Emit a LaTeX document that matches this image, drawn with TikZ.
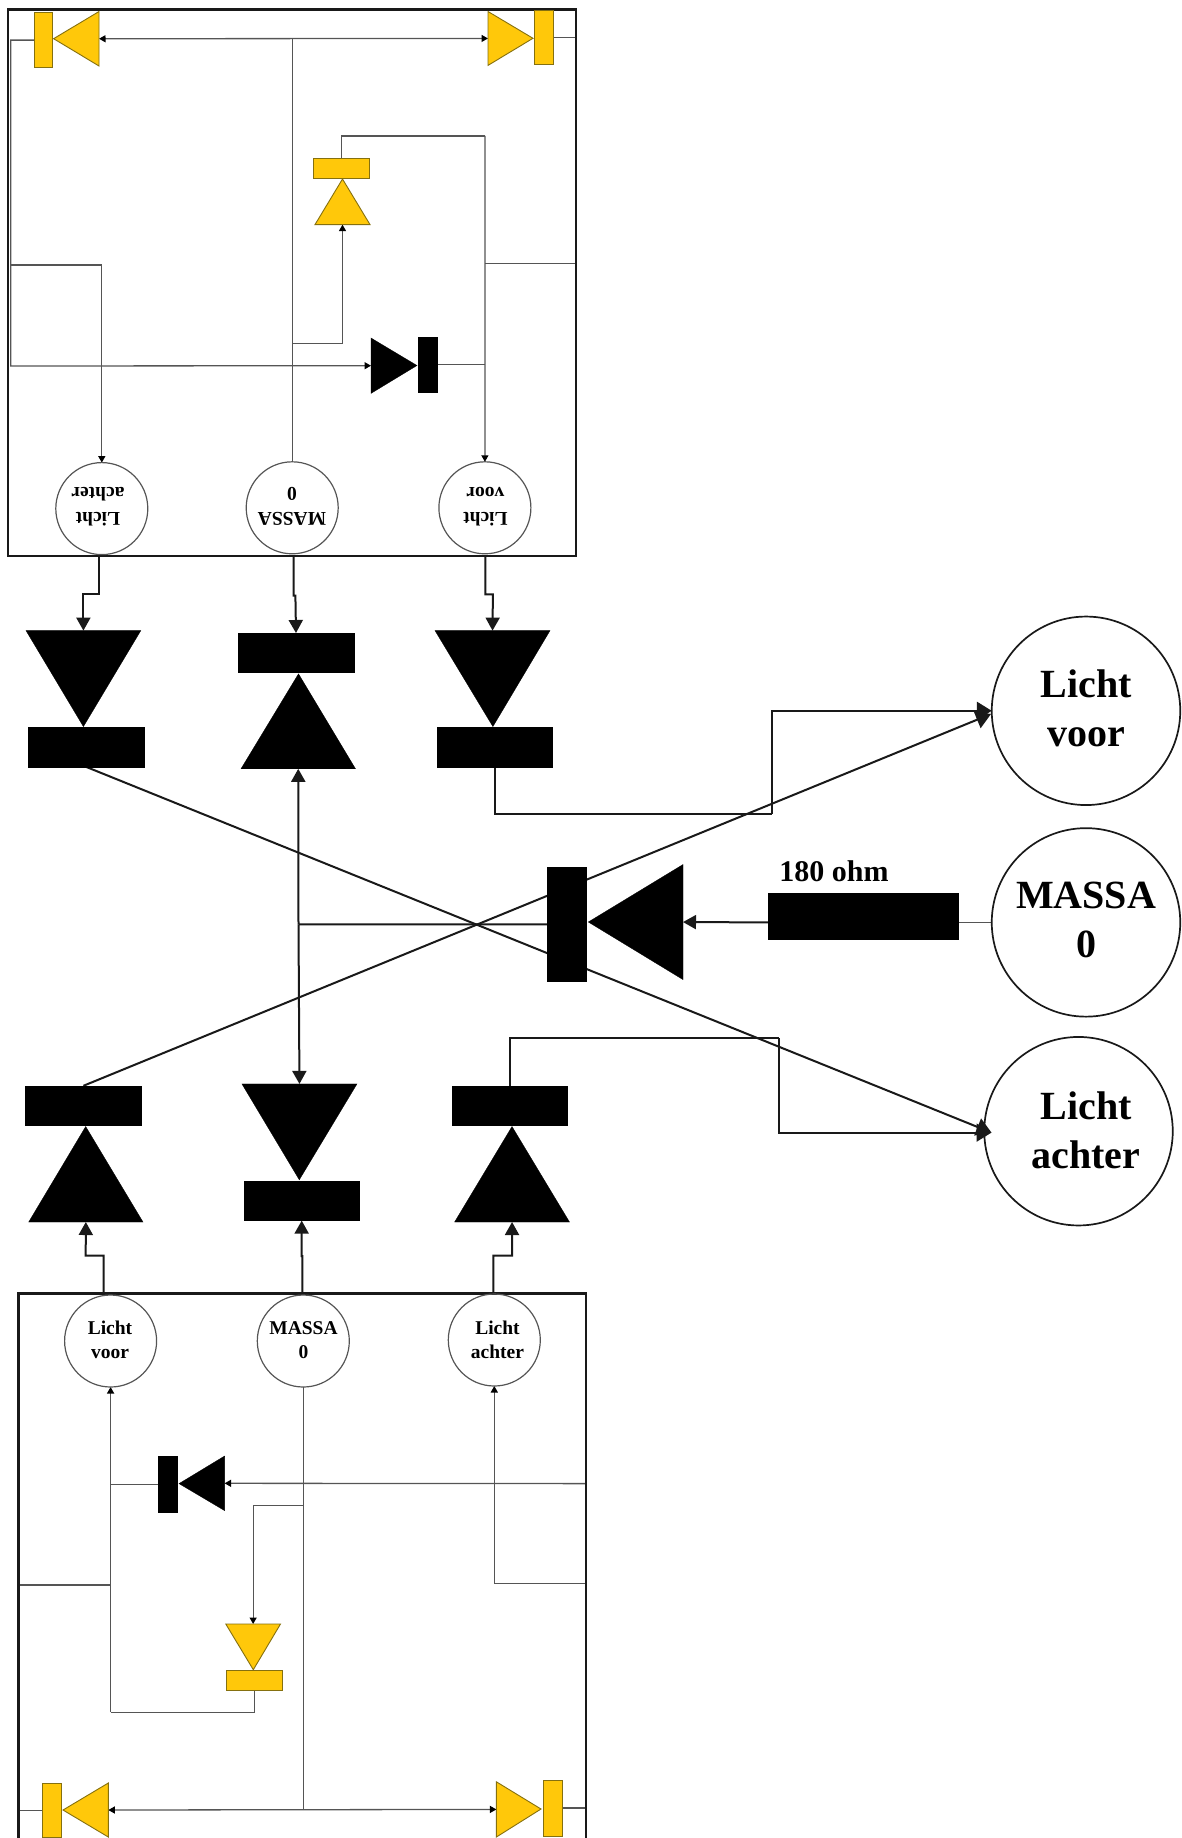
\documentclass[tikz,border=0pt]{standalone}
\usepackage{fontspec}
\setmainfont{Liberation Serif}
\usetikzlibrary{arrows.meta,calc,fit,backgrounds}
\definecolor{amber}{HTML}{FFC80A}
\definecolor{amberedge}{HTML}{85700F}
\definecolor{wiregray}{HTML}{555555}
\tikzset{
  wire/.style={draw=wiregray,line width=1.3pt},
  mainwire/.style={draw=black!90,line width=2pt},
  smalltip/.style={-{Triangle[length=6.5pt,width=7pt,color=black]}},
  smallboth/.style={{Triangle[length=6.5pt,width=7pt,color=black]}-{Triangle[length=6.5pt,width=7pt,color=black]}},
  midtip/.style={-{Triangle[length=13pt,width=14pt]}},
  bigtip/.style={-{Triangle[length=15pt,width=18pt]}},
  blackbar/.style={fill=black,draw=black,line width=.3pt,inner sep=0pt,outer sep=0pt,rectangle},
  ambbar/.style={fill=amber,draw=amberedge,line width=.9pt,inner sep=0pt,outer sep=0pt,rectangle},
  blacktri/.style={fill=black,draw=black,line width=.3pt,line join=miter},
  ambtri/.style={fill=amber,draw=amberedge,line width=.9pt},
  outerbox/.style={draw=black!90,line width=2.2pt,inner sep=0pt,outer sep=0pt,rectangle},
  smallcirc/.style={circle,draw=wiregray,line width=1.2pt,minimum size=92pt,inner sep=0pt,outer sep=0pt},
  bigcirc/.style={circle,draw=black!90,line width=1.7pt,minimum size=188.5pt,inner sep=0pt,outer sep=0pt},
  smalltext/.style={align=center,font=\fontsize{19.5}{24.5}\selectfont\bfseries,inner sep=0pt},
  bigtext/.style={align=center,font=\fontsize{40}{49}\selectfont\bfseries,inner sep=0pt},
}
\newcommand{\mybar}[6]{\node[#2,fit={(#3,#4)(#5,#6)}] (#1) {};}
% name, style, base point a, base point b, tip
\newcommand{\mytri}[5]{%
  \coordinate (#1-a) at (#3);\coordinate (#1-b) at (#4);\coordinate (#1-tip) at (#5);
  \coordinate (#1-base) at ($(#1-a)!.5!(#1-b)$);
  \path[#2] (#1-a) -- (#1-b) -- (#1-tip) -- cycle;}
\begin{document}
\begin{tikzpicture}[x=1pt,y=-1pt]
\useasboundingbox (0,0) rectangle (1182,1838);

% ---------- upper box ----------
\node[outerbox,fit={(7.7,9.5)(576,555.7)}] (topbox) {};
\mybar{tlb}{ambbar}{34}{12.6}{52.5}{67.7}
\mytri{tlt}{ambtri}{99,11.5}{99,66}{53.6,38.7}
\mybar{trb}{ambbar}{534.6}{10.3}{553}{64.3}
\mytri{trt}{ambtri}{488,11.5}{488,65.4}{533,38.3}
\mybar{tyb}{ambbar}{313.8}{158.8}{369}{178}
\mytri{tyt}{ambtri}{315,224.6}{370,224.6}{342.5,179}
\mybar{tbb}{blackbar}{418}{337}{437.4}{392.6}
\mytri{tbt}{blacktri}{371,338}{371,393.4}{417,365.5}
\node[smallcirc] (tc1) at (101.8,508.6) {};
\node[smallcirc] (tc2) at (292.2,507.8) {};
\node[smallcirc] (tc3) at (484.9,507.8) {};
\node[smalltext,rotate=180] (tt1) at (98,506.5) {Licht\\achter};
\node[smalltext,rotate=180] (tt2) at (292,506.5) {MASSA\\0};
\node[smalltext,rotate=180] (tt3) at (485.5,506.5) {Licht\\voor};

% ---------- lower box ----------
\coordinate (bxa) at (18.4,1838);\coordinate (bxb) at (18.4,1293.5);
\coordinate (bxc) at (586.3,1293.5);\coordinate (bxd) at (586.3,1838);
\draw[draw=black!90,line width=2.2pt] (bxa) -- (bxb) -- (bxc) -- (bxd);
\mybar{blb}{ambbar}{42.5}{1783.6}{61.6}{1837.5}
\mytri{blt}{ambtri}{108.3,1783}{108.3,1837}{63,1810}
\mybar{brb}{ambbar}{543}{1780}{562}{1836}
\mytri{brt}{ambtri}{496.4,1781.8}{496.4,1837}{541,1809}
\mybar{byb}{ambbar}{226.6}{1670.7}{282}{1690}
\mytri{byt}{ambtri}{225.8,1624}{280.5,1624}{253.3,1669.7}
\mybar{bbb}{blackbar}{158.4}{1456.5}{177.6}{1512.4}
\mytri{bbt}{blacktri}{224.6,1456}{224.6,1510.6}{179,1483.6}
\node[smallcirc] (bc1) at (110.6,1341) {};
\node[smallcirc] (bc2) at (303.3,1341) {};
\node[smallcirc] (bc3) at (494.3,1340) {};
\node[smalltext] (bt1) at (110,1340) {Licht\\voor};
\node[smalltext] (bt2) at (303.5,1340) {MASSA\\0};
\node[smalltext] (bt3) at (497.5,1340) {Licht\\achter};

% ---------- black diodes, upper row ----------
\mytri{u1t}{blacktri}{26,630.6}{140.8,630.6}{83.4,726.6}
\mybar{u1b}{blackbar}{28}{727.6}{143.9}{766.8}
\mybar{u2b}{blackbar}{238}{633}{354}{671.8}
\mytri{u2t}{blacktri}{241,768.8}{355.5,768.8}{298.5,673.8}
\mytri{u3t}{blacktri}{435,630.6}{550,630.6}{492.9,726.6}
\mybar{u3b}{blackbar}{437.4}{727.6}{552.6}{766.8}

% ---------- black diodes, lower row ----------
\mybar{l1b}{blackbar}{25.6}{1085.8}{141.2}{1125}
\mytri{l1t}{blacktri}{28.7,1222}{143,1222}{85.7,1126.5}
\mytri{l2t}{blacktri}{241.9,1083.9}{357,1083.9}{299.3,1179.8}
\mybar{l2b}{blackbar}{244}{1180.8}{359.4}{1220.6}
\mybar{l3b}{blackbar}{452}{1085.8}{567.5}{1125}
\mytri{l3t}{blacktri}{454.6,1222}{569.5,1222}{512,1126.5}

% ---------- centre ----------
\mybar{cb}{blackbar}{547}{867}{586}{981.6}
\mytri{ct}{blacktri}{683,864.5}{683,979.6}{588.3,922}
\mybar{res}{blackbar}{768}{892.7}{958.5}{939.6}
\node[bigcirc] (cv) at (1086,710.8) {};
\node[bigcirc] (cm) at (1086,922.4) {};
\node[bigcirc] (ca) at (1078.5,1131.2) {};
\node[bigtext] (cvt) at (1086,708) {Licht\\voor};
\node[bigtext] (cmt) at (1086,920) {MASSA\\0};
\node[bigtext] (cat) at (1086,1130.5) {Licht\\achter};
\node[font=\fontsize{30}{36}\selectfont\bfseries,inner sep=0pt] (rlab) at (834,871.5) {180 ohm};

% ---------- junction points ----------
\coordinate (jwestA) at (10.7,366);
\coordinate (jwestB) at (10.7,265);
\coordinate (jmidA) at (292.2,343.3);
\coordinate (jeastA) at (485,135.9);
\coordinate (jeastB) at (485,263.7);
\coordinate (o1) at (99.1,556);\coordinate (o2) at (293.5,556);\coordinate (o3) at (485.3,556);
\coordinate (e1) at (99.1,594.3);\coordinate (e2) at (83.4,594.3);
\coordinate (e3) at (293.5,595.7);\coordinate (e4) at (295.4,595.7);
\coordinate (e5) at (485.3,594.3);\coordinate (e6) at (492.9,594.3);
\coordinate (i1) at (103.7,1293.5);\coordinate (i2) at (302.3,1293.5);\coordinate (i3) at (493.3,1293.5);
\coordinate (f1) at (103.7,1255.5);\coordinate (f2) at (85.7,1255.5);
\coordinate (f3) at (302.3,1256);\coordinate (f4) at (301.6,1256);
\coordinate (f5) at (493.3,1255.5);\coordinate (f6) at (512,1255.5);
\coordinate (jc) at (298.5,924.4);
\coordinate (g1) at (771.9,814.3);
\coordinate (g2) at (778.8,1038.3);
\coordinate (g3) at (991.5,1132.6);
\coordinate (g4) at (991,714);
\coordinate (kwestA) at (19,1585);
\coordinate (kwestB) at (19,1838);
\coordinate (kvoor) at (110.6,1585);
\coordinate (kvoorB) at (110.6,1712.4);
\coordinate (kmidA) at (303.3,1505.3);
\coordinate (keastA) at (585.5,1483.6);
\coordinate (keastB) at (585.5,1583.6);
\coordinate (keastC) at (585.5,1838);

% ---------- connectors, beneath the shapes ----------
\begin{scope}[on background layer]
  % upper box
  \draw[wire,smalltip] (tlb.west) -| (jwestA) -- (tbt-base);
  \draw[wire,smalltip] (jwestB) -| (tc1.north);
  \draw[wire] (trb.east) -- (trb.east -| topbox.east);
  \draw[wire,smallboth] (tlt-base) -- (trt-base);
  \draw[wire] (tc2.north) -- (tc2.north |- tlt-base);
  \draw[wire,smalltip] (jmidA) -| (tyt-base);
  \draw[wire] (tyb.north) |- (jeastA);
  \draw[wire,smalltip] (jeastA) -- (tc3.north);
  \draw[wire] (tbb.east) -- (tbb.east -| tc3.north);
  \draw[wire] (jeastB) -- (jeastB -| topbox.east);
  % lower box
  \draw[wire] (blb.west) -- (blb.west -| kwestA);
  \draw[wire] (brb.east) -- (brb.east -| keastA);
  \draw[wire] (kwestA) -- (kwestB);
  \draw[wire] (keastA) -- (keastC);
  \draw[wire,smalltip] (keastA) -- (bbt-base);
  \draw[wire] (bbb.west) -- (bbb.west -| bc1.south);
  \draw[wire,smalltip] (kvoorB) -- (bc1.south);
  \draw[wire] (byb.south) |- (kvoorB);
  \draw[wire] (kwestA) -- (kvoor);
  \draw[wire] (bc2.south) -- (bc2.south |- blt-base);
  \draw[wire,smalltip] (kmidA) -| (byt-base);
  \draw[wire,smallboth] (blt-base) -- (brt-base);
  \draw[wire,smalltip] (keastB) -| (bc3.south);
  % between upper box and diodes
  \draw[mainwire,midtip] (o1) -- (e1) -- (e2) -- (u1t-base);
  \draw[mainwire,midtip] (o2) -- (e3) -- (e4) -- (u2b.north);
  \draw[mainwire,midtip] (o3) -- (e5) -- (e6) -- (u3t-base);
  % between lower box and diodes
  \draw[mainwire,midtip] (i1) -- (f1) -- (f2) -- (l1t-base);
  \draw[mainwire,midtip] (i2) -- (f3) -- (f4) -- (l2b.south);
  \draw[mainwire,midtip] (i3) -- (f5) -- (f6) -- (l3t-base);
  % centre
  \draw[mainwire] (cb.west) -- (jc);
  \draw[mainwire,midtip] (jc) -- (u2t-base);
  \draw[mainwire,midtip] (jc) -- (l2t-base);
  \draw[mainwire,bigtip] (u1b.south) -- (g3);
  \draw[mainwire,bigtip] (l1b.north) -- (g4);
  \draw[mainwire] (u3b.south) |- (g1);
  \draw[mainwire,bigtip] (g1) |- (cv.west);
  \draw[mainwire] (l3b.north) |- (g2);
  \draw[mainwire,bigtip] (g2) |- (g3);
  \draw[wire] (cm.west) -- (cm.west -| res.east);
  \draw[mainwire,midtip] (cm.west -| res.west) -- (ct-base);
\end{scope}
\end{tikzpicture}
\end{document}
